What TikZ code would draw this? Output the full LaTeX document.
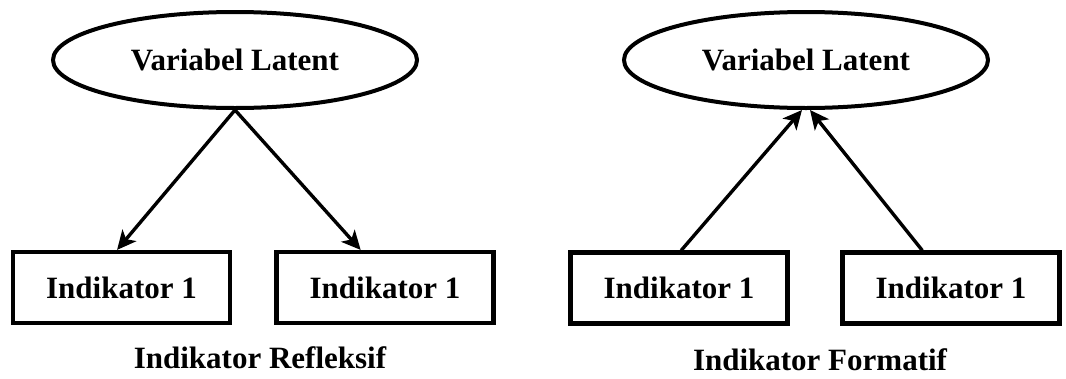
\documentclass[tikz,border=0pt]{standalone}
\usepackage{fontspec}
\setmainfont{LiberationSerif}[Extension=.ttf,UprightFont=*-Regular,BoldFont=*-Bold]
\usetikzlibrary{shapes.geometric,arrows.meta,calc}
\begin{document}
\begin{tikzpicture}[x=1pt,y=-1pt,
  txt/.style={font=\fontsize{31}{34}\selectfont\bfseries},
  latent/.style={txt,draw,line width=4pt,ellipse,minimum width=364pt,minimum height=96pt,inner sep=0pt},
  indbox/.style={txt,draw,line width=4.2pt,rectangle,minimum width=217pt,minimum height=71pt,inner sep=0pt},
  captxt/.style={txt,inner sep=0pt},
  conn/.style={line width=3.4pt,-{Stealth[length=19pt,width=18pt,inset=5pt]}}]
\useasboundingbox (0,0) rectangle (1066,378);
% left: reflexive
\node[latent] (L1) at (235,60) {Variabel Latent};
\node[indbox] (b1) at (121.5,287.5) {Indikator 1};
\node[indbox] (b2) at (385,287.5) {Indikator 1};
\draw[conn] (L1.south) -- ($(b1.north west)!0.48!(b1.north east)$);
\draw[conn] (L1.south) -- ($(b2.north west)!0.39!(b2.north east)$);
\node[captxt] (c1) at (260,358) {Indikator Refleksif};
% right: formative
\node[latent] (L2) at (806,60) {Variabel Latent};
\node[indbox] (b3) at (679,288) {Indikator 1};
\node[indbox] (b4) at (951,288) {Indikator 1};
\draw[conn] ($(b3.north west)!0.51!(b3.north east)$) -- ($(L2.south)+(-4,0)$);
\draw[conn] ($(b4.north west)!0.37!(b4.north east)$) -- ($(L2.south)+(4,0)$);
\node[captxt] (c2) at (820,360) {Indikator Formatif};
\end{tikzpicture}
\end{document}
